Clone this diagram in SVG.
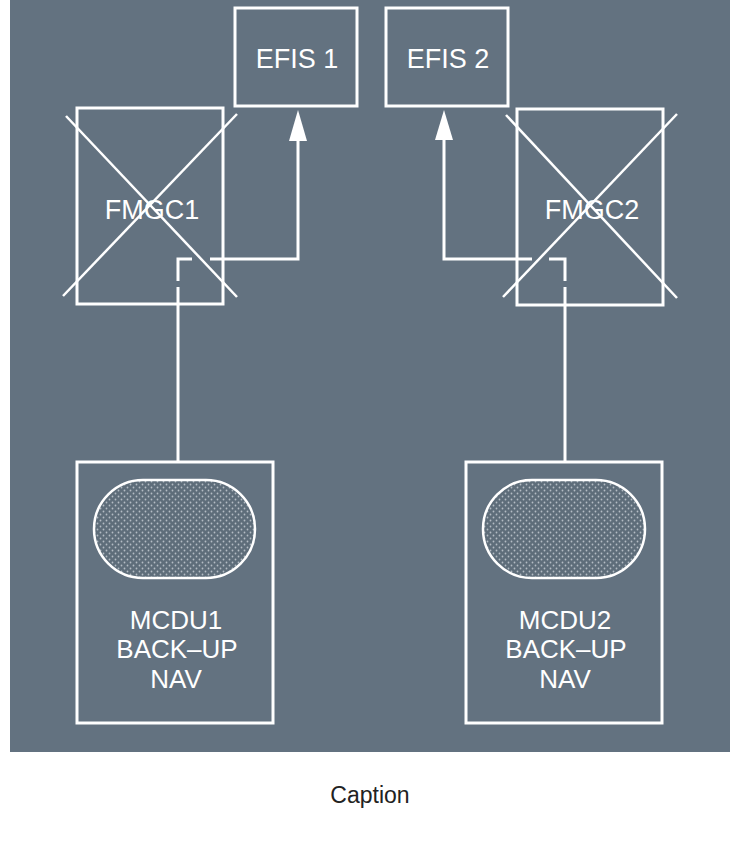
<svg xmlns="http://www.w3.org/2000/svg" width="740" height="860" viewBox="0 0 740 860">
<style>
.box{fill:none;stroke:#fff;stroke-width:3}
.x{stroke:#fff;stroke-width:2.5}
.ln{fill:none;stroke:#fff;stroke-width:3}
.t{font-family:"Liberation Sans",Arial,sans-serif;font-size:27px;fill:#fff;text-anchor:middle}
.m{font-family:"Liberation Sans",Arial,sans-serif;font-size:26px;fill:#fff;text-anchor:middle}
.cap{font-family:"Liberation Sans",Arial,sans-serif;font-size:23px;fill:#222;text-anchor:middle}
.scr{fill:url(#dots);stroke:#fff;stroke-width:2.5}
</style>
<defs>
<pattern id="dots" width="6" height="6" patternUnits="userSpaceOnUse">
<rect width="6" height="6" fill="#5e6d7a"/>
<circle cx="1.5" cy="1.5" r="0.9" fill="#b4bcc4"/>
<circle cx="4.5" cy="4.5" r="0.9" fill="#b4bcc4"/>
</pattern>
</defs>
<rect x="0" y="0" width="740" height="860" fill="#fff"/>
<rect x="10" y="0" width="720" height="752" fill="#637280"/>
<g id="connectors">
<line class="ln" x1="178" y1="461" x2="178" y2="287"/>
<polyline class="ln" points="178,281 178,259 192,259"/>
<polyline class="ln" points="210,259 298,259 298,140"/>
<path d="M298,110 L307,141 L289,141 Z" fill="#fff"/>
<line class="ln" x1="565" y1="461" x2="565" y2="287"/>
<polyline class="ln" points="565,281 565,259 549,259"/>
<polyline class="ln" points="532,259 444,259 444,139"/>
<path d="M444,110 L453,140 L435,140 Z" fill="#fff"/>
</g>
<g id="efis1">
<rect class="box" x="235" y="8" width="122" height="98"/>
<text class="t" x="297" y="68">EFIS 1</text>
</g>
<g id="efis2">
<rect class="box" x="386" y="8" width="122" height="98"/>
<text class="t" x="448" y="68">EFIS 2</text>
</g>
<g id="fmgc1">
<rect class="box" x="77" y="108" width="146" height="196"/>
<text class="t" x="152" y="219">FMGC1</text>
<line class="x" x1="66" y1="116" x2="237" y2="297"/>
<line class="x" x1="237" y1="114" x2="63" y2="296"/>
</g>
<g id="fmgc2">
<rect class="box" x="517" y="109" width="146" height="196"/>
<text class="t" x="592" y="219">FMGC2</text>
<line class="x" x1="506" y1="115" x2="677" y2="298"/>
<line class="x" x1="677" y1="114" x2="503" y2="297"/>
</g>
<g id="mcdu1">
<rect class="box" x="77" y="462" width="196" height="261"/>
<rect class="scr" x="94" y="480" width="161" height="98" rx="49" ry="49"/>
<text class="m" x="176" y="629">MCDU1</text>
<text class="m" x="177" y="658">BACK–UP</text>
<text class="m" x="176" y="688">NAV</text>
</g>
<g id="mcdu2">
<rect class="box" x="466" y="462" width="196" height="261"/>
<rect class="scr" x="483" y="480" width="162" height="98" rx="49" ry="49"/>
<text class="m" x="565" y="629">MCDU2</text>
<text class="m" x="566" y="658">BACK–UP</text>
<text class="m" x="565" y="688">NAV</text>
</g>
<text class="cap" x="370" y="803">Caption</text>
</svg>
